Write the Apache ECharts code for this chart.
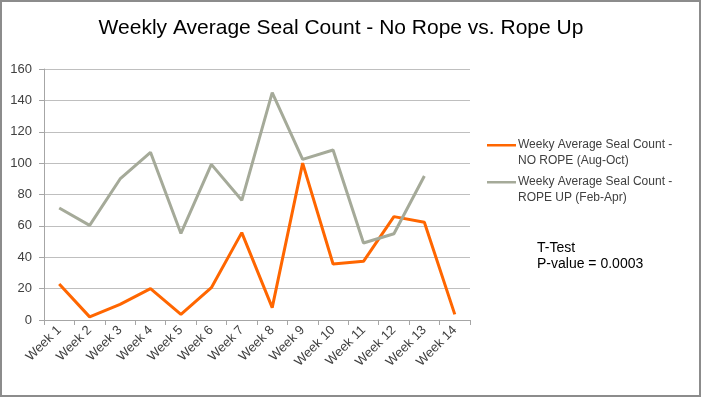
<!DOCTYPE html>
<html>
<head>
<meta charset="utf-8">
<script src="https://cdn.jsdelivr.net/npm/echarts@6/dist/echarts.min.js"></script>
<style>
  html, body { margin: 0; padding: 0; background: #fff; }
  #chart { width: 701px; height: 397px; }
</style>
</head>
<body>
<div id="chart"></div>
<script>
// weeks on the x axis
const weeks = ["Week 1", "Week 2", "Week 3", "Week 4", "Week 5", "Week 6", "Week 7",
  "Week 8", "Week 9", "Week 10", "Week 11", "Week 12", "Week 13", "Week 14"];
// weekly averages
const noRope = [23, 2, 10, 20, 3.6, 20.6, 55.7, 7.9, 100, 35.7, 37.4, 65.9, 62.3, 3.6];
const ropeUp = [71.4, 60.3, 89.9, 106.9, 55.2, 99.2, 76.3, 144.9, 102.4, 108.4, 49.1, 55, 91.8, null];
const yTicks = [0, 20, 40, 60, 80, 100, 120, 140, 160];

const seriesNames = [
  "Weeky Average Seal Count -\nNO ROPE (Aug-Oct)",
  "Weeky Average Seal Count -\nROPE UP (Feb-Apr)"
];

const chart = echarts.init(document.getElementById("chart"));
const baseFont = "'Liberation Sans', sans-serif";
// legend icon: line sitting on the first text line
const legendIcon = "path://M0,7H29V9.5H0Z M0,0h0.01v0.01h-0.01Z M0,32h0.01v0.01h-0.01Z";

const option = {
  animation: false,
  title: {
    text: "Weekly Average Seal Count - No Rope vs. Rope Up",
    left: 336,
    top: 13,
    textAlign: "center",
    textStyle: { fontFamily: baseFont, fontSize: 21, fontWeight: "normal", color: "#000" }
  },
  legend: {
    orient: "vertical",
    left: 482,
    top: 132,
    itemWidth: 29,
    itemHeight: 32,
    itemGap: 5,
    icon: legendIcon,
    textStyle: { fontFamily: baseFont, fontSize: 12, lineHeight: 16, color: "#404040", padding: [0, 0, 0, -3] },
    data: seriesNames
  },
  grid: { left: 44, right: 231, top: 69, bottom: 77, containLabel: false },
  xAxis: {
    type: "category",
    data: weeks,
    boundaryGap: true,
    axisLine: { lineStyle: { color: "#a6a6a6" } },
    axisTick: { show: true, length: 5, lineStyle: { color: "#a6a6a6" } },
    axisLabel: {
      rotate: 45, margin: 8, interval: 0,
      fontFamily: baseFont, fontSize: 13, color: "#404040"
    }
  },
  yAxis: {
    type: "value",
    min: yTicks[0],
    max: yTicks[yTicks.length - 1],
    interval: 20,
    axisLine: { show: true, lineStyle: { color: "#a6a6a6" } },
    axisTick: { show: true, length: 5, lineStyle: { color: "#a6a6a6" } },
    splitLine: { lineStyle: { color: "#bfbfbf" } },
    axisLabel: { margin: 12, fontFamily: baseFont, fontSize: 13, color: "#404040" }
  },
  series: [
    {
      name: seriesNames[0],
      type: "line",
      data: noRope,
      showSymbol: false,
      symbol: "none",
      lineStyle: { color: "#ff6600", width: 3 },
      itemStyle: { color: "#ff6600" }
    },
    {
      name: seriesNames[1],
      type: "line",
      data: ropeUp,
      showSymbol: false,
      symbol: "none",
      lineStyle: { color: "#a5aa99", width: 3 },
      itemStyle: { color: "#a5aa99" }
    }
  ],
  graphic: [
    {
      type: "rect",
      silent: true,
      shape: { x: 1, y: 1, width: 699, height: 395 },
      style: { fill: "none", stroke: "#8c8c8c", lineWidth: 2 }
    },
    {
      type: "text",
      left: 537,
      top: 240,
      style: {
        text: "T-Test\nP-value = 0.0003",
        font: "14px " + baseFont,
        lineHeight: 16,
        fill: "#000"
      }
    }
  ]
};

chart.setOption(option);
</script>
</body>
</html>
